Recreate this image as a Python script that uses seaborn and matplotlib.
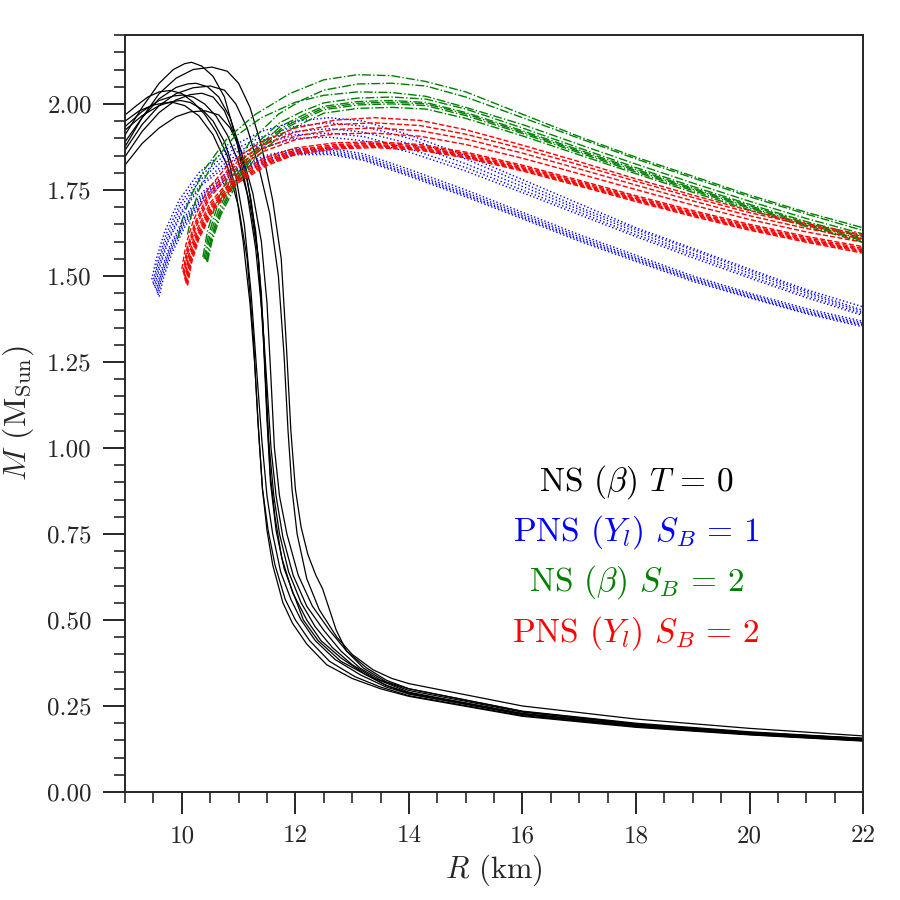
"""Mass-radius curves: cold NS vs hot PNS / NS families."""

import matplotlib
matplotlib.use("Agg")
import matplotlib.pyplot as plt
from matplotlib.ticker import MultipleLocator, FormatStrFormatter
import pandas as pd
import seaborn as sns

# ── Data ─────────────────────────────────────────────────────────────────────
# NS (beta) T = 0 : full (R, M) lists per curve
BLACK_R = [
    [8.8, 9.0, 9.2, 9.4, 9.6, 9.8, 10.0, 10.2, 10.4, 10.6, 10.8, 10.95, 11.08, 11.2, 11.28, 11.35, 11.42, 11.52, 11.64, 11.82, 12.0, 12.25, 12.6, 13.05, 13.5, 14, 16, 18, 20, 22],
    [8.8, 9.0, 9.3, 9.6, 9.8, 9.97, 10.15, 10.35, 10.55, 10.75, 10.95, 11.1, 11.22, 11.32, 11.41, 11.5, 11.6, 11.74, 11.92, 12.1, 12.35, 12.7, 13.15, 13.6, 14, 16, 18, 20, 22],
    [8.8, 9.0, 9.3, 9.6, 9.85, 10.03, 10.2, 10.4, 10.6, 10.8, 11.0, 11.2, 11.35, 11.44, 11.5, 11.56, 11.64, 11.76, 11.95, 12.2, 12.45, 12.8, 13.2, 13.6, 14, 16, 18, 20, 22],
    [8.8, 9.0, 9.3, 9.6, 9.85, 10.05, 10.17, 10.35, 10.55, 10.75, 10.97, 11.15, 11.3, 11.42, 11.5, 11.57, 11.66, 11.78, 11.96, 12.2, 12.5, 12.8, 13.14, 13.5, 14, 16, 18, 20, 22],
    [8.8, 9.0, 9.3, 9.6, 9.9, 10.15, 10.35, 10.55, 10.75, 10.95, 11.15, 11.3, 11.4, 11.47, 11.53, 11.62, 11.72, 11.88, 12.1, 12.35, 12.65, 13.0, 13.4, 14, 16, 18, 20, 22],
    [8.8, 9.0, 9.3, 9.6, 9.9, 10.15, 10.41, 10.65, 10.85, 11.05, 11.25, 11.4, 11.5, 11.57, 11.63, 11.72, 11.85, 12.05, 12.3, 12.6, 12.9, 13.26, 13.6, 14, 16, 18, 20, 22],
    [8.8, 9.0, 9.3, 9.6, 9.9, 10.2, 10.5, 10.75, 10.95, 11.15, 11.35, 11.55, 11.7, 11.8, 11.87, 11.94, 12.03, 12.2, 12.42, 12.73, 13.0, 13.37, 13.7, 14, 16, 18, 20, 22],
    [8.8, 9.0, 9.3, 9.6, 9.9, 10.2, 10.53, 10.8, 11.0, 11.2, 11.4, 11.6, 11.75, 11.84, 11.92, 12.0, 12.1, 12.22, 12.36, 12.48, 12.58, 12.72, 12.9, 13.2, 13.6, 14, 16, 18, 20, 22],
    [8.8, 9.0, 9.3, 9.6, 9.9, 10.1, 10.25, 10.45, 10.65, 10.85, 11.05, 11.22, 11.35, 11.44, 11.5, 11.56, 11.66, 11.8, 11.98, 12.14, 12.4, 12.8, 13.25, 13.6, 14, 16, 18, 20, 22],
    [8.8, 9.0, 9.25, 9.5, 9.7, 9.85, 10.05, 10.3, 10.55, 10.8, 11.0, 11.15, 11.26, 11.34, 11.42, 11.5, 11.6, 11.78, 11.95, 12.2, 12.55, 13.0, 13.5, 14, 16, 18, 20, 22],
]
BLACK_M = [
    [1.94, 1.968, 1.995, 2.02, 2.035, 2.039, 2.03, 2.005, 1.97, 1.92, 1.85, 1.75, 1.6, 1.42, 1.25, 1.05, 0.88, 0.76, 0.66, 0.56, 0.5, 0.44, 0.38, 0.335, 0.305, 0.28, 0.222, 0.19, 0.167, 0.149],
    [1.88, 1.924, 1.966, 1.995, 2.006, 2.01, 2.004, 1.985, 1.95, 1.89, 1.79, 1.65, 1.45, 1.22, 1.02, 0.86, 0.75, 0.64, 0.56, 0.5, 0.44, 0.385, 0.34, 0.305, 0.285, 0.226, 0.192, 0.169, 0.151],
    [1.89, 1.934, 1.978, 2.01, 2.023, 2.026, 2.02, 2.0, 1.965, 1.91, 1.83, 1.71, 1.55, 1.32, 1.1, 0.92, 0.8, 0.68, 0.58, 0.5, 0.44, 0.39, 0.345, 0.31, 0.288, 0.228, 0.195, 0.172, 0.155],
    [1.85, 1.91, 1.99, 2.06, 2.1, 2.117, 2.121, 2.11, 2.08, 2.02, 1.89, 1.74, 1.58, 1.38, 1.18, 1.0, 0.86, 0.74, 0.63, 0.54, 0.47, 0.41, 0.36, 0.325, 0.295, 0.232, 0.197, 0.173, 0.156],
    [1.79, 1.847, 1.92, 1.975, 2.012, 2.027, 2.031, 2.02, 1.98, 1.9, 1.78, 1.63, 1.45, 1.22, 1.02, 0.86, 0.75, 0.64, 0.55, 0.48, 0.42, 0.37, 0.33, 0.29, 0.228, 0.194, 0.17, 0.152],
    [1.77, 1.823, 1.885, 1.93, 1.963, 1.977, 1.98, 1.968, 1.93, 1.86, 1.74, 1.6, 1.42, 1.2, 1.0, 0.86, 0.75, 0.63, 0.54, 0.47, 0.41, 0.36, 0.325, 0.3, 0.235, 0.2, 0.175, 0.156],
    [1.8, 1.866, 1.94, 1.995, 2.03, 2.047, 2.052, 2.04, 2.0, 1.93, 1.82, 1.68, 1.5, 1.27, 1.05, 0.88, 0.75, 0.62, 0.53, 0.45, 0.4, 0.355, 0.33, 0.315, 0.25, 0.212, 0.185, 0.163],
    [1.8, 1.876, 1.96, 2.03, 2.075, 2.1, 2.107, 2.095, 2.06, 1.99, 1.88, 1.72, 1.55, 1.3, 1.05, 0.88, 0.77, 0.69, 0.63, 0.59, 0.54, 0.47, 0.41, 0.36, 0.32, 0.3, 0.234, 0.198, 0.173, 0.155],
    [1.84, 1.89, 1.96, 2.015, 2.048, 2.058, 2.06, 2.05, 2.02, 1.96, 1.86, 1.72, 1.55, 1.3, 1.08, 0.9, 0.76, 0.65, 0.57, 0.5, 0.44, 0.38, 0.34, 0.31, 0.285, 0.225, 0.191, 0.168, 0.15],
    [1.92, 1.95, 1.98, 1.997, 2.003, 2.004, 1.995, 1.965, 1.91, 1.82, 1.7, 1.55, 1.32, 1.08, 0.88, 0.76, 0.66, 0.55, 0.49, 0.43, 0.37, 0.33, 0.3, 0.278, 0.22, 0.188, 0.166, 0.148],
]

# PNS (Y_l) S_B = 1 : per-curve head radii + shared tail radii
BLUE_HEAD_R = [
    [9.47, 9.55, 9.70, 9.95, 10.30, 10.80, 11.40],
    [9.49, 9.57, 9.72, 9.97, 10.32, 10.82, 11.42],
    [9.50, 9.58, 9.73, 9.98, 10.33, 10.83, 11.43],
    [9.52, 9.60, 9.75, 10.00, 10.35, 10.85, 11.45],
    [9.53, 9.61, 9.76, 10.01, 10.36, 10.86, 11.46],
    [9.55, 9.63, 9.78, 10.02, 10.37, 10.87, 11.47],
    [9.56, 9.64, 9.79, 10.03, 10.38, 10.88, 11.48],
    [9.57, 9.65, 9.80, 10.04, 10.39, 10.89, 11.49],
    [9.58, 9.66, 9.81, 10.05, 10.40, 10.90, 11.50],
    [9.60, 9.68, 9.83, 10.07, 10.42, 10.92, 11.52],
]
BLUE_TAIL_R = [12.0, 12.6, 13.2, 14, 15, 16, 17, 18, 19, 20, 21, 22]
BLUE_M = [
    [1.49, 1.55, 1.63, 1.72, 1.80, 1.87, 1.92, 1.95, 1.96, 1.95, 1.91, 1.85, 1.78, 1.71, 1.64, 1.58, 1.52, 1.46, 1.41],
    [1.48, 1.54, 1.62, 1.71, 1.79, 1.86, 1.905, 1.935, 1.945, 1.935, 1.90, 1.84, 1.77, 1.70, 1.635, 1.575, 1.515, 1.455, 1.40],
    [1.475, 1.535, 1.61, 1.70, 1.78, 1.85, 1.895, 1.92, 1.928, 1.918, 1.885, 1.826, 1.76, 1.693, 1.628, 1.566, 1.508, 1.45, 1.395],
    [1.47, 1.53, 1.605, 1.69, 1.77, 1.84, 1.885, 1.91, 1.915, 1.905, 1.87, 1.815, 1.75, 1.685, 1.62, 1.56, 1.50, 1.443, 1.39],
    [1.465, 1.525, 1.60, 1.685, 1.765, 1.83, 1.875, 1.90, 1.903, 1.893, 1.86, 1.805, 1.742, 1.678, 1.614, 1.553, 1.494, 1.437, 1.385],
    [1.46, 1.515, 1.585, 1.665, 1.745, 1.81, 1.85, 1.87, 1.871, 1.855, 1.81, 1.75, 1.685, 1.62, 1.56, 1.50, 1.45, 1.405, 1.368],
    [1.455, 1.51, 1.58, 1.66, 1.74, 1.805, 1.845, 1.865, 1.866, 1.849, 1.803, 1.743, 1.679, 1.614, 1.554, 1.495, 1.446, 1.40, 1.363],
    [1.45, 1.505, 1.575, 1.655, 1.735, 1.80, 1.84, 1.86, 1.861, 1.844, 1.798, 1.738, 1.674, 1.609, 1.55, 1.491, 1.442, 1.396, 1.359],
    [1.445, 1.50, 1.572, 1.652, 1.732, 1.796, 1.836, 1.856, 1.857, 1.840, 1.794, 1.734, 1.67, 1.605, 1.546, 1.488, 1.439, 1.393, 1.356],
    [1.44, 1.497, 1.568, 1.648, 1.728, 1.792, 1.832, 1.852, 1.853, 1.836, 1.79, 1.73, 1.666, 1.601, 1.542, 1.484, 1.436, 1.39, 1.352],
]

# NS (beta) S_B = 2
GREEN_HEAD_R = [
    [9.93, 10.0, 10.15, 10.4, 10.8, 11.3, 11.9],
    [10.37, 10.45, 10.6, 10.85, 11.2, 11.7, 12.1],
    [10.39, 10.47, 10.62, 10.87, 11.22, 11.72, 12.12],
    [10.41, 10.49, 10.64, 10.89, 11.24, 11.74, 12.14],
    [10.43, 10.51, 10.66, 10.91, 11.26, 11.76, 12.16],
    [10.44, 10.52, 10.67, 10.92, 11.27, 11.77, 12.17],
    [10.45, 10.53, 10.68, 10.93, 11.28, 11.78, 12.18],
    [10.10, 10.17, 10.30, 10.55, 10.90, 11.40, 12.0],
]
GREEN_TAIL_R = [12.5, 13.1, 13.7, 14.3, 15, 16, 17, 18, 19, 20, 21, 22]
GREEN_M = [
    [1.61, 1.66, 1.73, 1.81, 1.90, 1.97, 2.03, 2.07, 2.085, 2.082, 2.065, 2.035, 1.97, 1.905, 1.845, 1.79, 1.735, 1.685, 1.64],
    [1.555, 1.63, 1.71, 1.80, 1.89, 1.97, 2.01, 2.04, 2.058, 2.06, 2.052, 2.02, 1.96, 1.90, 1.84, 1.785, 1.73, 1.68, 1.632],
    [1.55, 1.62, 1.70, 1.785, 1.87, 1.945, 1.978, 2.003, 2.017, 2.02, 2.014, 1.985, 1.93, 1.872, 1.815, 1.76, 1.708, 1.658, 1.615],
    [1.548, 1.615, 1.69, 1.775, 1.86, 1.935, 1.968, 1.993, 2.007, 2.01, 2.004, 1.975, 1.922, 1.866, 1.81, 1.755, 1.704, 1.654, 1.61],
    [1.545, 1.61, 1.685, 1.77, 1.855, 1.93, 1.963, 1.988, 2.002, 2.005, 2.0, 1.971, 1.918, 1.862, 1.806, 1.752, 1.70, 1.65, 1.606],
    [1.542, 1.605, 1.68, 1.765, 1.85, 1.925, 1.958, 1.983, 1.997, 2.0, 1.995, 1.966, 1.914, 1.858, 1.802, 1.748, 1.697, 1.647, 1.602],
    [1.54, 1.60, 1.675, 1.757, 1.84, 1.915, 1.948, 1.973, 1.987, 1.99, 1.985, 1.958, 1.907, 1.852, 1.797, 1.743, 1.692, 1.643, 1.598],
    [1.62, 1.68, 1.75, 1.83, 1.90, 1.96, 2.005, 2.025, 2.035, 2.033, 2.022, 1.99, 1.94, 1.882, 1.825, 1.77, 1.717, 1.667, 1.622],
]

# PNS (Y_l) S_B = 2
RED_HEAD_R = [
    [10.00, 10.07, 10.20, 10.45, 10.85, 11.40],
    [10.02, 10.09, 10.22, 10.47, 10.87, 11.42],
    [10.03, 10.10, 10.23, 10.48, 10.88, 11.43],
    [10.04, 10.11, 10.24, 10.49, 10.89, 11.44],
    [10.05, 10.12, 10.25, 10.50, 10.90, 11.45],
    [10.06, 10.13, 10.26, 10.51, 10.91, 11.46],
    [10.07, 10.14, 10.27, 10.52, 10.92, 11.47],
    [10.08, 10.15, 10.28, 10.53, 10.93, 11.48],
    [10.09, 10.16, 10.29, 10.54, 10.94, 11.49],
    [10.10, 10.17, 10.30, 10.55, 10.95, 11.50],
]
RED_TAIL_R = [12.0, 12.7, 13.4, 14.2, 15, 16, 17, 18, 19, 20, 21, 22]
RED_M = [
    [1.52, 1.59, 1.66, 1.75, 1.83, 1.89, 1.93, 1.953, 1.96, 1.952, 1.925, 1.88, 1.832, 1.782, 1.735, 1.69, 1.652, 1.62],
    [1.51, 1.58, 1.65, 1.74, 1.82, 1.88, 1.918, 1.94, 1.945, 1.937, 1.912, 1.87, 1.823, 1.775, 1.728, 1.684, 1.647, 1.615],
    [1.505, 1.575, 1.645, 1.733, 1.812, 1.87, 1.906, 1.926, 1.93, 1.922, 1.898, 1.857, 1.811, 1.764, 1.718, 1.675, 1.638, 1.607],
    [1.50, 1.57, 1.64, 1.727, 1.805, 1.862, 1.896, 1.913, 1.915, 1.906, 1.882, 1.842, 1.797, 1.751, 1.706, 1.664, 1.628, 1.598],
    [1.49, 1.56, 1.63, 1.713, 1.79, 1.843, 1.872, 1.887, 1.89, 1.882, 1.86, 1.822, 1.778, 1.733, 1.69, 1.65, 1.615, 1.585],
    [1.485, 1.553, 1.623, 1.707, 1.783, 1.837, 1.866, 1.882, 1.886, 1.878, 1.856, 1.818, 1.774, 1.729, 1.686, 1.646, 1.611, 1.58],
    [1.48, 1.548, 1.618, 1.702, 1.778, 1.832, 1.862, 1.878, 1.882, 1.874, 1.852, 1.814, 1.77, 1.725, 1.682, 1.642, 1.607, 1.576],
    [1.478, 1.545, 1.615, 1.698, 1.774, 1.828, 1.859, 1.875, 1.879, 1.871, 1.849, 1.811, 1.767, 1.722, 1.679, 1.639, 1.604, 1.573],
    [1.475, 1.542, 1.612, 1.695, 1.771, 1.825, 1.856, 1.872, 1.876, 1.868, 1.846, 1.808, 1.764, 1.719, 1.676, 1.636, 1.601, 1.57],
    [1.472, 1.538, 1.608, 1.691, 1.767, 1.821, 1.853, 1.869, 1.873, 1.865, 1.843, 1.805, 1.761, 1.716, 1.673, 1.633, 1.598, 1.566],
]

LABELS = [r"NS $(\beta)$ $T\,=\,0$", r"PNS $(Y_l)$ $S_B\,=\,1$",
          r"NS $(\beta)$ $S_B\,=\,2$", r"PNS $(Y_l)$ $S_B\,=\,2$"]
LABEL_M = [0.90, 0.757, 0.61, 0.463]


def to_frame(r_lists, m_lists, tail=None):
    rows = []
    for i, (r, m) in enumerate(zip(r_lists, m_lists)):
        rr = list(r) + (list(tail) if tail else [])
        df = pd.DataFrame({"R": rr, "M": m})
        df["curve"] = i
        rows.append(df)
    return pd.concat(rows, ignore_index=True)


black = to_frame(BLACK_R, BLACK_M)
blue = to_frame(BLUE_HEAD_R, BLUE_M, BLUE_TAIL_R)
green = to_frame(GREEN_HEAD_R, GREEN_M, GREEN_TAIL_R)
red = to_frame(RED_HEAD_R, RED_M, RED_TAIL_R)

# ── Style ─────────────────────────────────────────────────────────────────────
sns.set_style("ticks")
plt.rcParams["font.family"] = "serif"
plt.rcParams["font.serif"] = ["cmr10", "DejaVu Serif"]
plt.rcParams["mathtext.fontset"] = "cm"
plt.rcParams["axes.formatter.use_mathtext"] = True
plt.rcParams["axes.unicode_minus"] = False

fig = plt.figure(figsize=(9, 9), dpi=100)
ax = fig.add_axes([0.139, 0.12, 0.82, 0.841])

common = dict(x="R", y="M", units="curve", estimator=None, sort=False, ax=ax)
sns.lineplot(data=black, color="black", lw=0.9, **common)
sns.lineplot(data=blue, color="blue", lw=1.0, linestyle=":", **common)
sns.lineplot(data=green, color="green", lw=1.0, linestyle="-.", **common)
sns.lineplot(data=red, color="red", lw=1.0, linestyle="--", **common)

for text, y, c in zip(LABELS, LABEL_M, ["black", "blue", "green", "red"]):
    ax.text(18, y, text, color=c, fontsize=24, ha="center", va="center")

ax.set_xlim(9, 22)
ax.set_ylim(0, 2.2)
ax.xaxis.set_major_locator(MultipleLocator(2))
ax.xaxis.set_minor_locator(MultipleLocator(0.5))
ax.yaxis.set_major_locator(MultipleLocator(0.25))
ax.yaxis.set_minor_locator(MultipleLocator(0.05))
ax.xaxis.set_major_formatter(FormatStrFormatter("%d"))
ax.yaxis.set_major_formatter(FormatStrFormatter("%.2f"))
ax.tick_params(which="major", direction="out", length=16, width=1.4, labelsize=18, pad=8)
ax.tick_params(which="minor", direction="out", length=8, width=1.2)
for s in ax.spines.values():
    s.set_linewidth(1.4)

ax.set_xlabel(r"$R$ (km)", fontsize=22, labelpad=4)
ax.set_ylabel(r"$M$ (M$_{\rm Sun}$)", fontsize=23, labelpad=8)

fig.savefig("out.png", dpi=100)
